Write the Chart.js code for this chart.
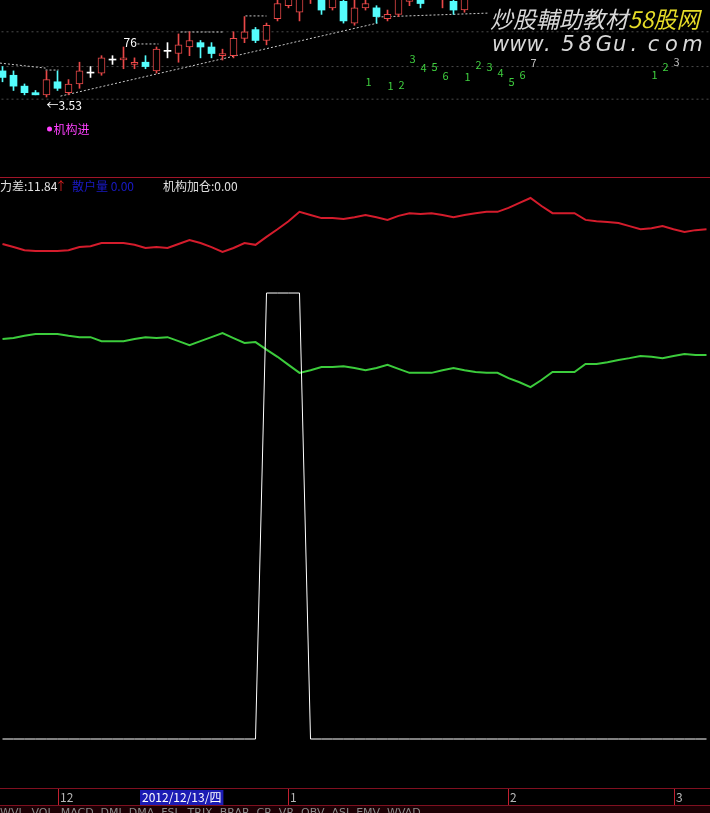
<!DOCTYPE html>
<html>
<head>
<meta charset="utf-8">
<script src="https://cdn.jsdelivr.net/npm/chart.js@4.4.1/dist/chart.umd.min.js"></script>
<style>
html, body { margin: 0; padding: 0; background: #000; overflow: hidden; }
#c { display: block; }
</style>
</head>
<body>
<canvas id="c" width="710" height="813"></canvas>
<script>
// K线数据 (开 高 低 收)
var opens  = [3.65,3.63,3.58,3.55,3.54,3.60,3.55,3.59,3.64,3.64,3.70,3.70,3.68,3.69,3.65,3.74,3.73,3.76,3.78,3.76,3.72,3.72,3.80,3.84,3.79,3.89,3.95,3.92,3.99,3.99,3.94,3.97,3.87,3.94,3.94,3.89,3.91,3.97,4.01,4.00,3.99,3.97,3.93];
var highs  = [3.67,3.65,3.59,3.56,3.65,3.65,3.61,3.69,3.67,3.72,3.72,3.76,3.71,3.72,3.76,3.78,3.82,3.83,3.79,3.78,3.75,3.83,3.90,3.85,3.87,4.00,4.04,4.02,4.09,4.01,4.02,4.00,3.98,3.98,3.95,3.93,4.02,4.07,4.03,4.09,4.07,4.00,4.05];
var lows   = [3.60,3.56,3.54,3.54,3.53,3.56,3.54,3.57,3.62,3.63,3.68,3.66,3.66,3.66,3.64,3.71,3.69,3.72,3.71,3.71,3.70,3.71,3.78,3.78,3.77,3.88,3.94,3.88,3.96,3.91,3.93,3.87,3.86,3.93,3.87,3.88,3.90,3.95,3.94,3.99,3.94,3.91,3.92];
var closes = [3.62,3.58,3.55,3.54,3.61,3.57,3.59,3.65,3.64,3.71,3.70,3.71,3.69,3.67,3.75,3.74,3.77,3.79,3.76,3.73,3.73,3.80,3.83,3.79,3.86,3.96,4.02,4.00,4.07,3.93,4.00,3.88,3.94,3.96,3.90,3.91,4.00,4.03,3.96,4.07,4.05,3.93,4.01];

// 下方指标三条线
var redLine = [111.0,110.3,109.6,109.4,109.4,109.4,109.6,110.3,110.5,111.2,111.2,111.2,110.8,110.1,110.3,110.1,111.0,111.9,111.2,110.3,109.2,110.1,111.2,110.8,112.6,114.3,116.1,118.2,117.5,116.8,116.8,116.6,117.0,117.5,117.0,116.4,117.3,117.9,117.7,117.9,117.5,117.0,117.5,117.9,118.2,118.2,119.1,120.2,121.3,119.5,117.9,117.9,117.9,116.4,116.1,115.9,115.7,115.0,114.3,114.5,115.0,114.3,113.7,114.1,114.3];
var greenLine = [89.7,89.9,90.4,90.8,90.8,90.8,90.4,90.1,90.1,89.2,89.2,89.2,89.7,90.1,89.9,90.1,89.2,88.3,89.2,90.1,91.0,89.9,88.8,89.0,87.3,85.7,83.9,82.1,82.7,83.4,83.4,83.6,83.2,82.7,83.2,83.9,83.0,82.1,82.1,82.1,82.7,83.2,82.7,82.3,82.1,82.1,80.9,80.0,78.9,80.5,82.3,82.3,82.3,84.1,84.1,84.5,85.0,85.4,85.9,85.7,85.4,85.9,86.3,86.1,86.1];
var whiteLine = [0,0,0,0,0,0,0,0,0,0,0,0,0,0,0,0,0,0,0,0,0,0,0,0,100,100,100,100,0,0,0,0,0,0,0,0,0,0,0,0,0,0,0,0,0,0,0,0,0,0,0,0,0,0,0,0,0,0,0,0,0,0,0,0,0];

// 九转计数
var tdText  = ['1','1','2','3','4','5','6','1','2','3','4','5','6','7','1','2','3'];
var tdIndex = [33,35,36,37,38,39,40,42,43,44,45,46,47,48,59,60,61];
var tdPrice = [3.599,3.581,3.585,3.705,3.663,3.668,3.627,3.622,3.677,3.668,3.640,3.599,3.631,3.686,3.631,3.668,3.691];

// 虚线 (趋势/压力)
var trendLines = [
  [[5.27,3.534],[34.09,3.870]],
  [[34.09,3.898],[44.18,3.916]],
  [[-0.23,3.686],[3.91,3.663]],
  [[3.91,3.654],[5.09,3.654]],
  [[12.27,3.774],[14.18,3.774]],
  [[16.18,3.829],[20.0,3.829]],
  [[22.09,3.903],[24.0,3.903]]
];
var gridPrices = [3.83, 3.67, 3.52];

// 日期轴
var monthIndex  = [5, 26, 46, 61];
var monthLabels = ['12', '1', '2', '3'];
var cursorIndex = 13;
var cursorLabel = '2012/12/13/四';
var hiIndex = 11, loIndex = 4;

var UP = '#e84848', DOWN = '#54fcfc', FLAT = '#ffffff';
var FONT = '"Noto Sans CJK SC", sans-serif';

var candleIdx = opens.map(function (v, i) { return i; });
function candleColor(i) {
  if (closes[i] > opens[i]) return UP;
  if (closes[i] < opens[i]) return DOWN;
  return FLAT;
}

var datasets = [];

gridPrices.forEach(function (p) {
  datasets.push({
    type: 'line', yAxisID: 'yp', data: [{x: -1, y: p}, {x: 66, y: p}],
    borderColor: '#4a4a4a', borderWidth: 1, borderDash: [2, 3], pointRadius: 0, order: 5
  });
});

trendLines.forEach(function (seg) {
  datasets.push({
    type: 'line', yAxisID: 'yp', data: seg.map(function (p) { return {x: p[0], y: p[1]}; }),
    borderColor: '#c8c8c8', borderWidth: 1, borderDash: [2, 2], pointRadius: 0, order: 4
  });
});

// 影线
datasets.push({
  type: 'bar', yAxisID: 'yp', grouped: false, barThickness: 1, minBarLength: 1,
  data: candleIdx.map(function (i) { return {x: i, y: [lows[i], highs[i]]}; }),
  backgroundColor: candleIdx.map(candleColor), borderWidth: 0, order: 3
});
// 实体
datasets.push({
  type: 'bar', yAxisID: 'yp', grouped: false, barThickness: 7, minBarLength: 1,
  data: candleIdx.map(function (i) { return {x: i, y: [opens[i], closes[i]]}; }),
  backgroundColor: candleIdx.map(function (i) { return closes[i] > opens[i] ? '#000' : candleColor(i); }),
  borderColor: candleIdx.map(candleColor),
  borderWidth: candleIdx.map(function (i) { return closes[i] > opens[i] ? 1 : 0; }),
  borderSkipped: false, order: 2
});

// 九转数字位置
datasets.push({
  type: 'line', yAxisID: 'yp', showLine: false, pointRadius: 0,
  data: tdIndex.map(function (i, k) { return {x: i, y: tdPrice[k]}; }), order: 1
});
var tdMetaIndex = datasets.length - 1;

function series(arr, color, w) {
  return {
    type: 'line', yAxisID: 'yv', data: arr.map(function (v, i) { return {x: i, y: v}; }),
    borderColor: color, borderWidth: w, pointRadius: 0, tension: 0, order: 1
  };
}
datasets.push(series(whiteLine, '#ffffff', 1));
datasets.push(series(redLine, '#d41c2c', 2));
datasets.push(series(greenLine, '#3ccc3c', 2));

var overlay = {
  id: 'overlay',
  beforeDraw: function (chart) {
    var c = chart.ctx;
    c.save();
    c.fillStyle = '#000';
    c.fillRect(0, 0, chart.width, chart.height);
    c.restore();
  },
  afterDatasetsDraw: function (chart) {
    var c = chart.ctx, sx = chart.scales.x, sp = chart.scales.yp;
    c.save();

    // 九转数字
    var meta = chart.getDatasetMeta(tdMetaIndex);
    c.font = '11px ' + FONT;
    c.textAlign = 'center';
    c.textBaseline = 'middle';
    meta.data.forEach(function (pt, k) {
      var grey = (tdText[k] === '7' || k === tdText.length - 1);
      c.fillStyle = grey ? '#bdbdbd' : '#3fcf3f';
      c.fillText(tdText[k], pt.x + 3, pt.y);
    });

    // 最高 最低 标注
    c.textAlign = 'left';
    c.fillStyle = '#ffffff';
    c.font = '12px ' + FONT;
    c.textBaseline = 'bottom';
    c.fillText(String(Math.round(highs[hiIndex] * 100) % 100), sx.getPixelForValue(hiIndex), sp.getPixelForValue(highs[hiIndex]) + 1);
    c.textBaseline = 'top';
    c.fillText('←' + lows[loIndex].toFixed(2), sx.getPixelForValue(loIndex), sp.getPixelForValue(lows[loIndex]) + 2);

    var mx = sx.getPixelForValue(loIndex);
    c.fillStyle = '#ff40ff';
    c.beginPath();
    c.arc(mx + 3, 129, 2.5, 0, Math.PI * 2);
    c.fill();
    c.textBaseline = 'middle';
    c.fillText('机构进', mx + 7, 129);

    // 水印
    c.textBaseline = 'alphabetic';
    c.font = 'italic 23px ' + FONT;
    c.fillStyle = '#d8d8d8';
    c.fillText('炒股輔助教材', 490, 28);
    var w1 = c.measureText('炒股輔助教材').width;
    c.fillStyle = '#e6dc28';
    c.fillText('58股网', 490 + w1, 28);
    c.font = 'italic 21px "DejaVu Sans", sans-serif';
    c.fillStyle = '#d8d8d8';
    'www.58Gu.com'.split('').forEach(function (ch, k) {
      c.fillText(ch, 492 + k * 17.3, 51);
    });

    // 分隔线与指标标题
    c.fillStyle = '#a01428';
    c.fillRect(0, 177, chart.width, 1);
    c.font = '12px ' + FONT;
    c.textBaseline = 'middle';
    c.fillStyle = '#e0e0e0';
    c.fillText('力差:11.84', 0, 186);
    c.fillStyle = '#e02020';
    c.fillText('↑', 55, 186);
    c.fillStyle = '#1a1ac8';
    c.fillText('散户量 0.00', 72, 186);
    c.fillStyle = '#e0e0e0';
    c.fillText('机构加仓:0.00', 163, 186);

    // 日期轴
    c.fillStyle = '#801020';
    c.fillRect(0, 788, chart.width, 1);
    c.fillRect(0, 805, chart.width, 1);
    c.fillStyle = '#1c0004';
    c.fillRect(0, 806, chart.width, 7);
    c.font = '12px ' + FONT;
    monthIndex.forEach(function (i, k) {
      var x = Math.round(sx.getPixelForValue(i));
      c.fillStyle = '#c02030';
      c.fillRect(x, 789, 1, 16);
      c.fillStyle = '#b8b8b8';
      c.fillText(monthLabels[k], x + 2, 797);
    });
    var cx = Math.round(sx.getPixelForValue(cursorIndex)) - 5;
    var cw = c.measureText(cursorLabel).width + 4;
    c.fillStyle = '#1c1cb4';
    c.fillRect(cx, 790, cw, 15);
    c.fillStyle = '#ffffff';
    c.fillText(cursorLabel, cx + 2, 797);

    c.font = '11px "DejaVu Sans", sans-serif';
    c.fillStyle = '#8a8a8a';
    c.textBaseline = 'top';
    c.fillText('WVL  VOL  MACD  DMI  DMA  FSL  TRIX  BRAR  CR  VR  OBV  ASI  EMV  WVAD', 0, 808);
    c.restore();
  }
};

new Chart(document.getElementById('c').getContext('2d'), {
  type: 'bar',
  data: { datasets: datasets },
  options: {
    responsive: false,
    animation: false,
    events: [],
    layout: { padding: 0 },
    plugins: { legend: { display: false }, tooltip: { enabled: false } },
    scales: {
      x: { type: 'linear', min: -2.5 / 11, max: 707.5 / 11, offset: false, display: false },
      yp: { type: 'linear', position: 'left', min: 0.2364, max: 3.9762, display: false },
      yv: { type: 'linear', position: 'right', min: -16.59, max: 165.70, display: false }
    }
  },
  plugins: [overlay]
});
</script>
</body>
</html>
